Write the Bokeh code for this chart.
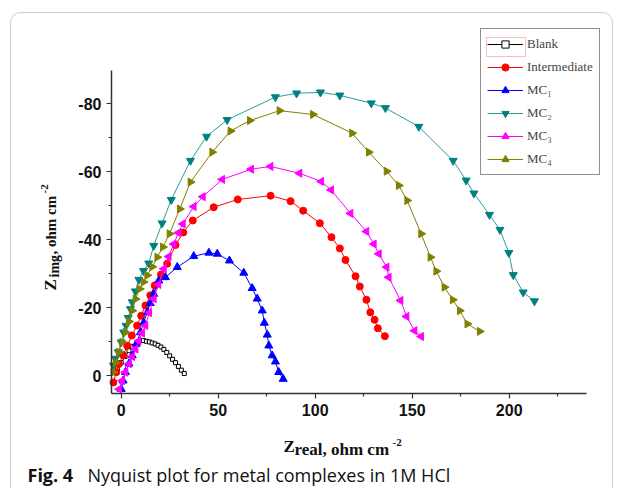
import math
from bokeh.plotting import figure
from bokeh.models import (Range1d, FixedTicker, Legend, LegendItem, Label, BoxAnnotation)
from bokeh.embed import file_html
from bokeh.resources import INLINE

# ---- data ----
blank_x = [-2, 0, 2, 4, 6, 8, 10, 11.5, 13, 14.5, 16, 17.5, 19, 20.5, 22, 23.5, 25, 26.5, 28, 29.5, 31, 32.5]
blank_y = [-2, -3.8, -5.6, -7.3, -8.6, -9.6, -10.3, -10.3, -10.1, -9.9, -9.6, -9.3, -8.9, -8.4, -7.7, -6.8, -5.8, -4.8, -3.8, -2.7, -1.6, -0.6]

inter_x = [-4, -2.5, -1.2, 1, 3.1, 5.5, 8.2, 10.3, 12.5, 15, 17.3, 20.5, 23.7, 28, 32, 36.9, 47.7, 60.1, 77, 87.3, 93.8, 102.4, 108.4, 112.7, 115.6, 120.8, 123, 126.4, 128.4, 130.6, 132.3, 135.9]
inter_y = [2, -1, -3.4, -6, -8.8, -11.8, -14.7, -17.6, -20.6, -23.6, -26.5, -29.7, -32.9, -38.4, -42.1, -45.6, -49.5, -51.8, -52.9, -51.3, -48.5, -44.8, -40.7, -37.4, -34, -29.2, -26.2, -22.3, -18.6, -16.4, -13.9, -11.6]

mc1_x = [0, 1, 2.2, 4, 5.7, 7.8, 9.9, 11.6, 13.4, 15, 16.8, 19.4, 22.8, 28.9, 37.4, 45.2, 49.5, 55.8, 63.2, 67.5, 70.1, 72.7, 73.8, 75.3, 76.1, 77.8, 79.5, 81.2, 83.5]
mc1_y = [4, 1.5, -1, -3.5, -5.9, -9.3, -12.7, -15.6, -18.6, -21.3, -24, -27.9, -28.9, -31.9, -35.1, -36.1, -35.8, -33.8, -30.2, -25.7, -22.6, -19.1, -15.5, -12, -8.8, -5.9, -4.1, -1, 1]

mc2_x = [-4, -3, -1.5, 0, 1.3, 2.5, 3.6, 4.8, 5.7, 7.3, 9.1, 11.5, 14.2, 16.8, 21.1, 25.8, 35.7, 44, 54.6, 79.5, 90.4, 102.7, 112.7, 128.9, 136.2, 153.4, 171.1, 177.8, 181.8, 189.8, 195.2, 199.8, 202.1, 207.2, 213]
mc2_y = [-3, -5, -6.9, -9.8, -12.7, -14.7, -17, -19.6, -21.6, -24.8, -28.2, -30.8, -33, -38.2, -44.8, -51.7, -63.2, -70.3, -75.2, -81.9, -83, -83.3, -82.4, -80.1, -78.7, -73.2, -63.2, -57.4, -53.6, -47.3, -42.9, -36.1, -29.6, -24.5, -21.9]

mc3_x = [-1, 0.5, 2.2, 4, 5.7, 7.4, 9, 10.8, 12.5, 14.5, 16.8, 19.2, 22, 24.5, 27.1, 29.5, 31.8, 37.4, 42.1, 52.1, 67, 77, 91.9, 103.1, 108.2, 118.2, 126.4, 130.2, 132.8, 136.8, 137.9, 144, 147.1, 151.2, 154.6]
mc3_y = [4, 1.5, -1, -3.5, -5.6, -7.8, -10.2, -12.5, -14.7, -18.5, -22.6, -26.8, -31.4, -35, -38.7, -42, -44.6, -49.7, -52.6, -57.7, -60.7, -61.5, -59.5, -57.1, -54.6, -47.7, -42.4, -38.7, -35.8, -31.9, -28.9, -22.1, -17.4, -13.2, -11.5]

mc4_x = [-4, -2.8, -1.2, 0.5, 2.2, 4, 5.7, 7.4, 9.5, 11.5, 13.4, 16, 18.6, 21.5, 24.9, 30.2, 35.7, 46.9, 56.3, 66.3, 81.6, 98.8, 119, 127.6, 136.8, 143.1, 147.4, 154.6, 159.4, 162.4, 166.6, 170.9, 174.5, 178.4, 184.8]
mc4_y = [-1, -3.8, -6.9, -9.8, -12.7, -15.9, -19.1, -22.5, -25.5, -27.5, -29.5, -32, -34.8, -37.8, -41.7, -49, -56.9, -65.7, -71.9, -75, -77.9, -76.8, -71.3, -65.7, -60.1, -55.9, -51.5, -41.7, -34.8, -30.7, -26, -22.3, -19.1, -15.2, -13]

x_ticks = [0, 50, 100, 150, 200]
x_minor = [25, 75, 125, 175, 225]
y_ticks = [0, -20, -40, -60, -80]
y_minor = [-10, -30, -50, -70]
y_tick_labels = ["0", "-20", "-40", "-60", "-80"]
x_axis_bounds = (-5, 240)
y_axis_bounds = (-89.7, 5.3)

W, H = 623, 488

p = figure(width=W, height=H, output_backend="svg", toolbar_location=None,
           x_range=Range1d(-62.2, 258.9), y_range=Range1d(33.2, -110.3),
           min_border=0, min_border_left=0, min_border_right=0,
           min_border_top=0, min_border_bottom=0)
p.outline_line_color = None
p.grid.visible = False

p.xaxis.fixed_location = y_axis_bounds[1]
p.yaxis.fixed_location = x_axis_bounds[0]
p.xaxis.bounds = x_axis_bounds
p.yaxis.bounds = y_axis_bounds

for ax in (p.xaxis[0], p.yaxis[0]):
    ax.axis_line_width = 1.5
    ax.axis_line_color = "#333333"
    ax.major_tick_line_color = "#333333"
    ax.minor_tick_line_color = "#333333"
    ax.major_tick_line_width = 1.2
    ax.minor_tick_line_width = 1.2
    ax.major_tick_in = 0
    ax.major_tick_out = 5
    ax.minor_tick_in = 0
    ax.minor_tick_out = 3
    ax.major_label_text_font = "Liberation Sans"
    ax.major_label_text_font_style = "bold"
    ax.major_label_text_font_size = "16px"
    ax.major_label_text_color = "#111111"

p.xaxis.ticker = FixedTicker(ticks=x_ticks, minor_ticks=x_minor)
p.yaxis.ticker = FixedTicker(ticks=y_ticks, minor_ticks=y_minor)
p.yaxis.major_label_overrides = {t: s for t, s in zip(y_ticks, y_tick_labels)}
p.xaxis.major_label_standoff = 5
p.yaxis.major_label_standoff = 5

# card border
p.add_layout(BoxAnnotation(left=10, right=612, bottom=-20, top=H - 12,
                           left_units="screen", right_units="screen",
                           bottom_units="screen", top_units="screen",
                           border_radius=10,
                           fill_alpha=0, line_color="#555555", line_width=1))

# red selection frame around the "Blank" legend sample
p.add_layout(BoxAnnotation(left=486, right=525, bottom=H - 56, top=H - 37,
                           left_units="screen", right_units="screen",
                           bottom_units="screen", top_units="screen",
                           fill_alpha=0, line_color="#EE2222", line_width=1))

items = []
r0l = p.line(blank_x, blank_y, line_color="black", line_width=1)
r0m = p.scatter(blank_x, blank_y, marker="square", size=4, line_color="black", fill_color="white", line_width=1)
items.append(LegendItem(label="Blank", renderers=[r0l, r0m]))

r1l = p.line(inter_x, inter_y, line_color="#FF0000", line_width=1)
r1m = p.scatter(inter_x, inter_y, marker="circle", size=7, line_color="#FF0000", fill_color="#FF0000")
items.append(LegendItem(label="Intermediate", renderers=[r1l, r1m]))

r2l = p.line(mc1_x, mc1_y, line_color="#0000FF", line_width=1)
r2m = p.scatter(mc1_x, mc1_y, marker="triangle", size=8, line_color="#0000FF", fill_color="#0000FF")
items.append(LegendItem(label="MC₁", renderers=[r2l, r2m]))

r3l = p.line(mc2_x, mc2_y, line_color="#2E9A9A", line_width=1)
r3m = p.scatter(mc2_x, mc2_y, marker="inverted_triangle", size=8, line_color="#008080", fill_color="#008080")
items.append(LegendItem(label="MC₂", renderers=[r3l, r3m]))

r4l = p.line(mc3_x, mc3_y, line_color="#FF00FF", line_width=1)
r4m = p.scatter(mc3_x, mc3_y, marker="triangle", angle=math.pi / 2, size=8, line_color="#FF00FF", fill_color="#FF00FF")
items.append(LegendItem(label="MC₃", renderers=[r4l, r4m]))

r5l = p.line(mc4_x, mc4_y, line_color="#808000", line_width=1)
r5m = p.scatter(mc4_x, mc4_y, marker="triangle", angle=-math.pi / 2, size=8, line_color="#808000", fill_color="#808000")
items.append(LegendItem(label="MC₄", renderers=[r5l, r5m]))

legend = Legend(items=items, location=(480, H - 175), glyph_width=36, glyph_height=18,
                label_text_font="Liberation Serif", label_text_font_size="13px",
                label_standoff=4, spacing=5, padding=6, margin=0,
                border_line_color="#222222", border_line_width=1,
                background_fill_alpha=0, label_height=18)
p.add_layout(legend, "center")

def lab(x, y, t, size, font="Liberation Serif", style="bold", angle=0.0):
    p.add_layout(Label(x=x, y=y, x_units="screen", y_units="screen", text=t,
                       text_font=font, text_font_style=style, text_font_size=size,
                       angle=angle, text_baseline="alphabetic", text_align="left",
                       text_color="#111111"))

# x axis title: Z_real, ohm cm^-2
lab(283, H - 446, "Z", "17px")
lab(294, H - 449, "real, ohm cm", "17px")
lab(392, H - 442, "-2", "11px")
# y axis title (rotated): Z_img, ohm cm^-2
lab(50, H - 290, "Z", "17px", angle=math.pi / 2)
lab(54, H - 277, "img", "14px", angle=math.pi / 2)
lab(50, H - 254, ", ohm cm", "15px", angle=math.pi / 2)
lab(44, H - 193, "-2", "11px", angle=math.pi / 2)
# caption
lab(27, H - 474, "Fig. 4", "18px", font="Open Sans", style="bold")
lab(87, H - 474, "Nyquist plot for metal complexes in 1M HCl", "18px", font="Open Sans", style="normal")

open("out.html", "w").write(file_html(p, INLINE))
